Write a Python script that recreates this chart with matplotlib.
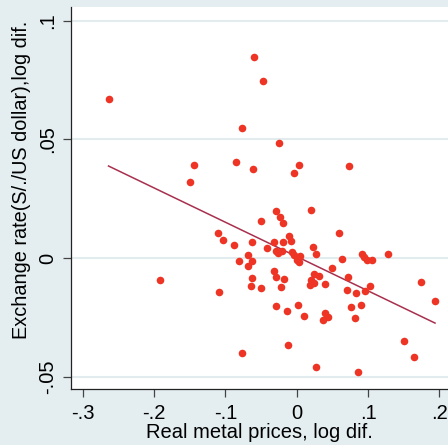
import numpy as np
import matplotlib
matplotlib.use("Agg")
import matplotlib.pyplot as plt

plt.rcParams['font.family'] = ['Liberation Sans', 'DejaVu Sans']

# metal price change (x) vs exchange rate change (y), log differences
metal = [-0.264, -0.0599, -0.0473, -0.0767, -0.1445, -0.0847, -0.0613, -0.1492,
         -0.0244, 0.0037, -0.0042, 0.0729, -0.1104, -0.1029, -0.0879, -0.0631,
         -0.0678, -0.0814, -0.0631, -0.0687, -0.1917, -0.0631, -0.0641, -0.0501,
         -0.1094, -0.0767, -0.0290, -0.0239, -0.0192, 0.0201, -0.0505, -0.0112,
         -0.0084, -0.0192, -0.0318, -0.0421, -0.0286, -0.0266, -0.0210, -0.0062,
         -0.0038, 0.0042, 0.0000, 0.0028, 0.0233, 0.0275, 0.0593, 0.0631,
         0.0499, 0.0916, 0.0944, 0.0982, 0.1060, 0.1281, -0.0318, -0.0290,
         -0.0178, -0.0220, 0.0238, 0.0313, 0.0205, 0.0238, 0.0191, 0.0393,
         0.0719, 0.0705, 0.0827, 0.0958, 0.1028, 0.0762, 0.0898, 0.0822,
         0.1739, 0.1940, -0.0286, -0.0132, 0.0014, 0.0098, 0.0393, 0.0435,
         0.0373, -0.0126, 0.0266, 0.0855, 0.1500, 0.1650]
fx = [0.0671, 0.0847, 0.0746, 0.0549, 0.0391, 0.0403, 0.0374, 0.0319,
      0.0486, 0.0391, 0.0357, 0.0386, 0.0107, 0.0077, 0.0055, 0.0069,
      0.0013, -0.0013, -0.0013, -0.0032, -0.0093, -0.0083, -0.0118, -0.0125,
      -0.0142, -0.0399, 0.0197, 0.0171, 0.0146, 0.0201, 0.0156, 0.0094,
      0.0073, 0.0067, 0.0066, 0.0042, 0.0029, 0.0020, 0.0028, 0.0027,
      0.0013, 0.0008, -0.0008, -0.0018, 0.0048, 0.0018, 0.0104, -0.0005,
      -0.0042, 0.0018, 0.0004, -0.0008, -0.0008, 0.0018, -0.0053, -0.0080,
      -0.0088, -0.0122, -0.0069, -0.0076, -0.0093, -0.0107, -0.0112, -0.0111,
      -0.0081, -0.0135, -0.0149, -0.0140, -0.0118, -0.0205, -0.0197, -0.0252,
      -0.0100, -0.0180, -0.0204, -0.0223, -0.0197, -0.0246, -0.0230, -0.0247,
      -0.0263, -0.0367, -0.0458, -0.0482, -0.0351, -0.0419]

xticks = [-0.3, -0.2, -0.1, 0, 0.1, 0.2]
xlabels = ['-.3', '-.2', '-.1', '0', '.1', '.2']
yticks = [-0.05, 0, 0.05, 0.1]
ylabels = ['-.05', '0', '.05', '.1']

bg = '#e4eef1'

fig = plt.figure(figsize=(4.48, 4.45), dpi=100, facecolor=bg)
ax = fig.add_axes([71/448, 1 - 389/445, 377/448, 382/445])
ax.set_facecolor('white')

ax.scatter(metal, fx, s=30, color='#ee3424', linewidths=0, zorder=3)

# linear fit
b, a = np.polyfit(metal, fx, 1)
xs = np.array([min(metal), max(metal)])
ax.plot(xs, a + b * xs, color='#a8304e', lw=1.1, zorder=2)

ax.set_xlim(-0.3166, 0.2122)
ax.set_ylim(-0.0552, 0.1058)
ax.set_xticks(xticks)
ax.set_xticklabels(xlabels)
ax.set_yticks(yticks)
ax.set_yticklabels(ylabels, rotation=90, va='center')

for y in yticks:
    ax.axhline(y, color='#e2ecef', lw=1.5, zorder=1)

for s in ['top', 'right']:
    ax.spines[s].set_visible(False)
for s in ['left', 'bottom']:
    ax.spines[s].set_color('#222222')
    ax.spines[s].set_linewidth(0.9)

ax.tick_params(axis='both', length=6, width=0.9, color='#444444', labelsize=14.5)
ax.tick_params(axis='x', pad=5)
ax.tick_params(axis='y', pad=4)

ax.set_xlabel('Real metal prices, log dif.', fontsize=14.5, labelpad=0)
ax.set_ylabel('Exchange rate(S/./US dollar),log dif.', fontsize=14.3)
ax.yaxis.set_label_coords(-0.105, 0.547)

fig.savefig('out.png', dpi=100, facecolor=bg)
